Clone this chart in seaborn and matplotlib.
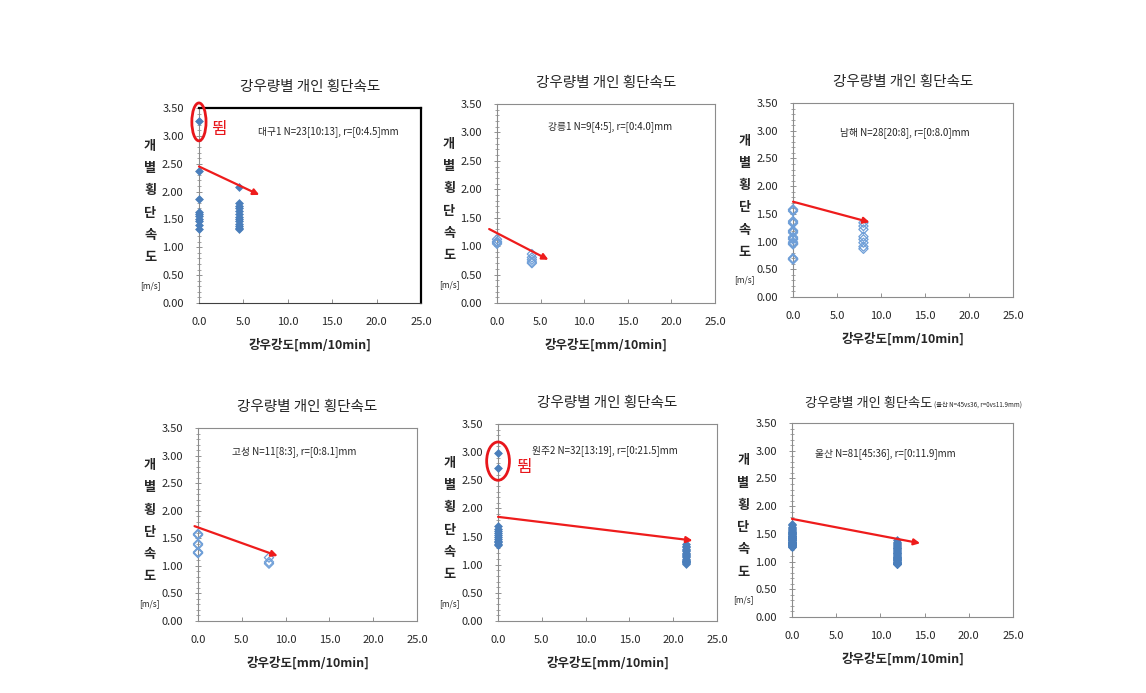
import numpy as np
import pandas as pd
import matplotlib.pyplot as plt
import seaborn as sns
from matplotlib.patches import Ellipse
from matplotlib.ticker import MultipleLocator, FormatStrFormatter

sns.set_style('white')
plt.rcParams['font.family'] = ['Noto Sans CJK KR', 'DejaVu Sans']

# --- data ---
titles = ['강우량별 개인 횡단속도'] * 6
labels = ['대구1 N=23[10:13], r=[0:4.5]mm', '강릉1 N=9[4:5], r=[0:4.0]mm',
          '남해 N=28[20:8], r=[0:8.0]mm', '고성 N=11[8:3], r=[0:8.1]mm',
          '원주2 N=32[13:19], r=[0:21.5]mm', '울산 N=81[45:36], r=[0:11.9]mm']
title_note = '(울산 N=45vs36, r=0vs11.9mm)'

daegu_x = [0.0] * 10 + [4.5] * 13
daegu_y = [3.26, 2.36, 1.86, 1.64, 1.60, 1.56, 1.50, 1.47, 1.40, 1.32,
           2.09, 1.79, 1.74, 1.70, 1.65, 1.60, 1.55, 1.51, 1.47, 1.41, 1.38, 1.35, 1.33]

gangneung_x = [0.0] * 4 + [4.0] * 5
gangneung_y = [1.12, 1.08, 1.06, 1.04, 0.86, 0.80, 0.76, 0.72, 0.70]

namhae_x = [0.0] * 20 + [8.0] * 8
namhae_y = [1.58, 1.57, 1.55, 1.37, 1.35, 1.33, 1.20, 1.18, 1.16, 1.08,
            1.06, 1.04, 0.99, 0.97, 0.96, 0.95, 0.70, 0.69, 0.68, 0.68,
            1.34, 1.28, 1.22, 1.09, 1.04, 0.98, 0.91, 0.87]

goseong_x = [0.0] * 8 + [8.1] * 3
goseong_y = [1.58, 1.57, 1.56, 1.40, 1.38, 1.25, 1.24, 1.23, 1.15, 1.07, 1.04]

wonju_x = [0.0] * 13 + [21.5] * 19
wonju_y = [2.99, 2.71, 1.68, 1.64, 1.60, 1.56, 1.52, 1.50, 1.46, 1.43, 1.40, 1.37, 1.35,
           1.36, 1.33, 1.31, 1.28, 1.26, 1.24, 1.21, 1.19, 1.17, 1.15, 1.13, 1.11,
           1.09, 1.07, 1.06, 1.05, 1.04, 1.03, 1.02]

ulsan_x = [0.0] * 45 + [11.9] * 36
ulsan_y = [1.68, 1.66, 1.63, 1.60, 1.58, 1.57, 1.55, 1.54, 1.53, 1.52,
           1.51, 1.50, 1.49, 1.48, 1.47, 1.46, 1.46, 1.45, 1.44, 1.43,
           1.42, 1.42, 1.41, 1.40, 1.39, 1.38, 1.38, 1.37, 1.36, 1.35,
           1.35, 1.34, 1.33, 1.33, 1.32, 1.31, 1.31, 1.30, 1.30, 1.29,
           1.29, 1.28, 1.28, 1.27, 1.27,
           1.38, 1.36, 1.34, 1.32, 1.30, 1.28, 1.27, 1.25, 1.24, 1.22,
           1.21, 1.19, 1.18, 1.16, 1.15, 1.13, 1.12, 1.10, 1.09, 1.08,
           1.07, 1.06, 1.05, 1.04, 1.03, 1.02, 1.01, 1.00, 0.99, 0.98,
           0.98, 0.97, 0.96, 0.96, 0.95, 0.95]

xs = [daegu_x, gangneung_x, namhae_x, goseong_x, wonju_x, ulsan_x]
ys = [daegu_y, gangneung_y, namhae_y, goseong_y, wonju_y, ulsan_y]
filled = [True, False, False, False, True, True]

# trend arrows: (x0, y0) -> (x1, y1)
trend_start = [(0.0, 2.45), (-0.9, 1.30), (0.0, 1.72), (-0.4, 1.72), (0.0, 1.85), (0.0, 1.77)]
trend_end = [(6.8, 1.94), (5.9, 0.76), (8.7, 1.35), (9.1, 1.18), (22.2, 1.43), (14.5, 1.33)]

# outlier ("뜀") marks
jump_panel = [0, 4]
jump_center = [(0.0, 3.25), (0.0, 2.84)]
jump_size = [(1.6, 0.68), (2.6, 0.68)]
jump_text_xy = [(1.35, 3.12), (2.1, 2.72)]

# --- layout (figure fractions) ---
positions = [(0.1736, 0.5628, 0.1937, 0.2814), (0.4337, 0.5628, 0.1902, 0.2872),
             (0.6920, 0.5714, 0.1920, 0.2799), (0.1728, 0.1039, 0.1911, 0.2785),
             (0.4346, 0.1039, 0.1911, 0.2843), (0.6911, 0.1097, 0.1928, 0.2799)]
label_pos = [(0.266, 0.88), (0.234, 0.884), (0.214, 0.85), (0.155, 0.88), (0.155, 0.863), (0.104, 0.845)]

blue = '#4A7EBB'
light_blue = '#6F9FD8'

fig = plt.figure(figsize=(11.46, 6.93), dpi=100)
fig.patch.set_facecolor('white')

for i in range(6):
    ax = fig.add_axes(positions[i])
    df = pd.DataFrame({'x': xs[i], 'y': ys[i]})
    if filled[i]:
        sns.scatterplot(data=df, x='x', y='y', ax=ax, marker='D', s=16,
                        color=blue, edgecolor=blue, linewidth=0.5, clip_on=False, zorder=3)
    else:
        sns.scatterplot(data=df, x='x', y='y', ax=ax, marker='D', s=22,
                        facecolor='none', edgecolor=light_blue, linewidth=0.9, clip_on=False, zorder=3)

    x0, y0 = trend_start[i]
    x1, y1 = trend_end[i]
    ax.annotate('', xy=(x1, y1), xytext=(x0, y0), annotation_clip=False,
                arrowprops=dict(arrowstyle='-|>', color='#EE1C1C', lw=1.6,
                                mutation_scale=9, shrinkA=0, shrinkB=0))

    ax.set_xlim(0, 25)
    ax.set_ylim(0, 3.5)
    ax.xaxis.set_major_locator(MultipleLocator(5))
    ax.yaxis.set_major_locator(MultipleLocator(0.5))
    ax.yaxis.set_minor_locator(MultipleLocator(0.1))
    ax.xaxis.set_major_formatter(FormatStrFormatter('%.1f'))
    ax.yaxis.set_major_formatter(FormatStrFormatter('%.2f'))
    ax.tick_params(axis='x', which='major', direction='in', length=3, width=0.6,
                   color='#808080', pad=10, labelsize=8)
    ax.tick_params(axis='y', which='major', direction='inout', length=4, width=0.6,
                   color='#808080', pad=9, labelsize=8)
    ax.tick_params(axis='y', which='minor', direction='inout', length=3, width=0.5,
                   color='#808080', left=True)
    ax.tick_params(left=True, bottom=True)

    for side in ['left', 'bottom', 'top', 'right']:
        ax.spines[side].set_color('#8C8C8C')
        ax.spines[side].set_linewidth(0.8)
    if i == 0:
        for side in ['top', 'right']:
            ax.spines[side].set_color('black')
            ax.spines[side].set_linewidth(1.6)
        ax.spines['bottom'].set_color('#404040')

    ax.set_xlabel('강우강도[mm/10min]', fontsize=9, fontweight='bold', labelpad=8)
    ax.set_ylabel('')
    ax.text(-0.22, 0.52, '개\n별\n횡\n단\n속\n도', transform=ax.transAxes,
            ha='center', va='center', fontsize=9.5, fontweight='bold', linespacing=1.75)
    ax.text(-0.22, 0.09, '[m/s]', transform=ax.transAxes, ha='center', va='center', fontsize=6)

    ax.text(label_pos[i][0], label_pos[i][1], labels[i], transform=ax.transAxes,
            ha='left', va='center', fontsize=7)

    if i == 5:
        t = ax.text(0.06, 1.10, titles[i], transform=ax.transAxes, ha='left', va='center', fontsize=9.5)
        ax.annotate(title_note, xy=(1.0, 0.35), xycoords=t, xytext=(1, 0), textcoords='offset points',
                    ha='left', va='center', fontsize=4.5)
    else:
        ax.set_title(titles[i], fontsize=10.5, pad=12)

    if i in jump_panel:
        k = jump_panel.index(i)
        cx, cy = jump_center[k]
        w, h = jump_size[k]
        ax.add_patch(Ellipse((cx, cy), w, h, fill=False, edgecolor='#E8161B', lw=2, clip_on=False, zorder=4))
        ax.text(jump_text_xy[k][0], jump_text_xy[k][1], '뜀', color='#E8161B', fontsize=12,
                ha='left', va='center')

plt.savefig('out.png', dpi=100, facecolor='white')
